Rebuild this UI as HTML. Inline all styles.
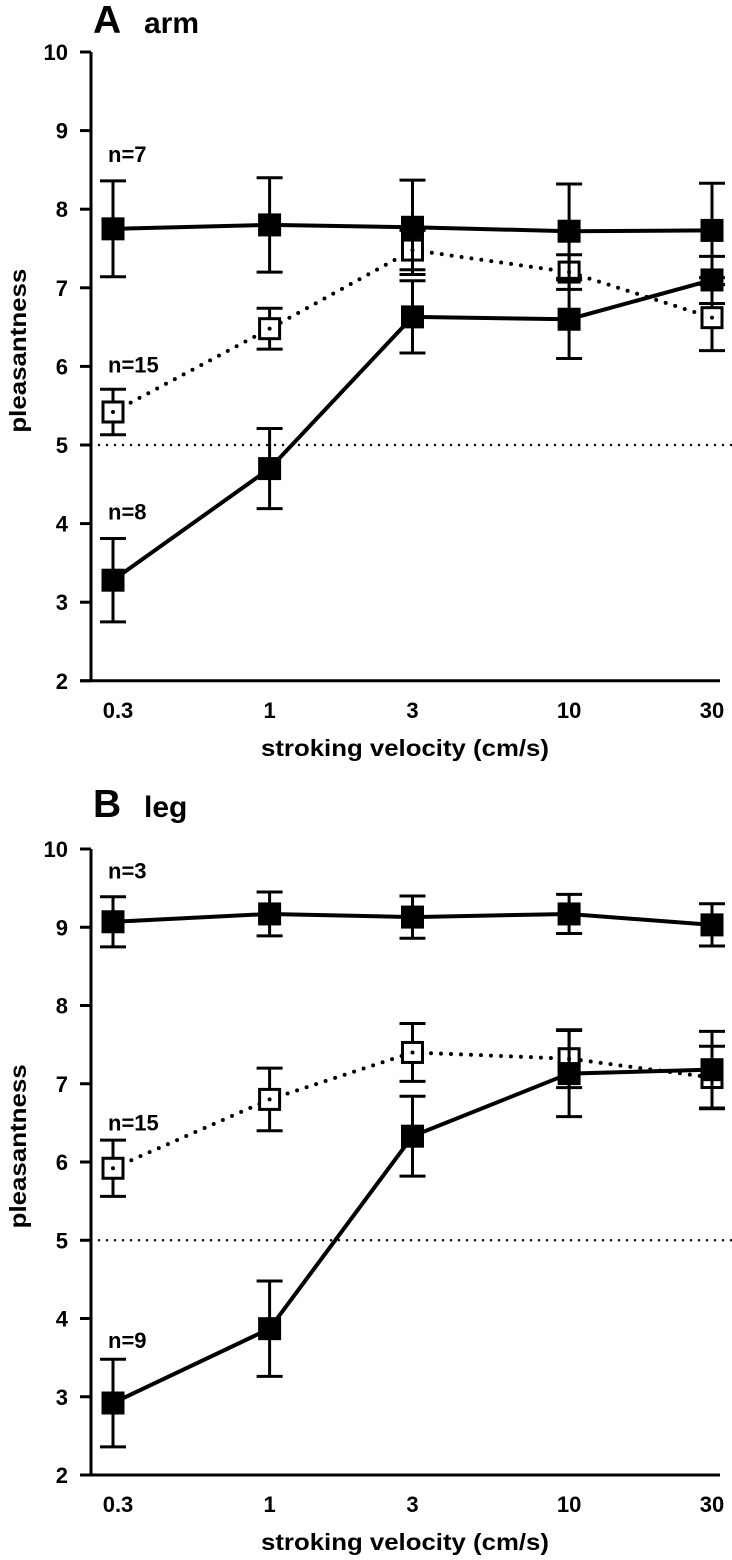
<!DOCTYPE html>
<html><head><meta charset="utf-8"><style>
html,body{margin:0;padding:0;background:#fff;}
svg{display:block;font-family:"Liberation Sans",sans-serif;font-weight:bold;}
</style></head><body>
<svg id="chart" width="732" height="1560" viewBox="0 0 732 1560" xmlns="http://www.w3.org/2000/svg"></svg>
<script>
const velocities = [0.3, 1, 3, 10, 30];
const yTicks = [2,3,4,5,6,7,8,9,10];
// Panel A (arm)
const armTopMean = [7.75, 7.8, 7.77, 7.72, 7.73];
const armTopErr  = [0.61, 0.6, 0.6, 0.6, 0.6];
const armOpenMean = [5.42, 6.48, 7.48, 7.2, 6.62];
const armOpenErr  = [0.29, 0.26, 0.25, 0.22, 0.42];
const armLowMean = [3.28, 4.7, 6.63, 6.6, 7.1];
const armLowErr  = [0.53, 0.51, 0.46, 0.5, 0.3];
// Panel B (leg)
const legTopMean = [9.07, 9.17, 9.13, 9.17, 9.03];
const legTopErr  = [0.32, 0.28, 0.27, 0.25, 0.27];
const legOpenMean = [5.92, 6.8, 7.4, 7.32, 7.08];
const legOpenErr  = [0.36, 0.4, 0.37, 0.37, 0.4];
const legLowMean = [2.92, 3.87, 6.33, 7.13, 7.18];
const legLowErr  = [0.56, 0.61, 0.51, 0.55, 0.49];

const NS = "http://www.w3.org/2000/svg";
const svg = document.getElementById('chart');
function mk(tag, attrs, parent){ const e=document.createElementNS(NS,tag); for(const k in attrs) e.setAttribute(k,attrs[k]); (parent||svg).appendChild(e); return e; }

function xScale(v){ return 113 + (Math.log10(v) - Math.log10(0.3)) * 299.5; }

function panel(cfg){
  const g = mk('g',{});
  
  
  const y = v => cfg.y10 + (10 - v) * cfg.unit;
  const y2 = y(2);
  const tl = mk('text',{x:93,y:cfg.titleY,'font-size':39},g); tl.textContent=cfg.letter;
  
  
  const tt = mk('text',{x:144,y:cfg.titleY,'font-size':30},g); tt.textContent=cfg.title;
  
  
  const ya = mk('line',{x1:91,y1:cfg.y10,x2:91,y2:y2,stroke:'#000','stroke-width':3},g);
  
  
  const xa = mk('line',{x1:80,y1:y2,x2:720,y2:y2,stroke:'#000','stroke-width':3},g);
  
  
  yTicks.forEach(t=>{
    const tk = mk('line',{x1:80,y1:y(t),x2:91,y2:y(t),stroke:'#000','stroke-width':3},g);
    
    
    const lb = mk('text',{x:68,y:y(t)+8,'font-size':22,'text-anchor':'end'},g); lb.textContent=t;
    
    
  });
  velocities.forEach(v=>{
    const lb = mk('text',{x:xScale(v)+(v===0.3?5:0),y:y2+37,'font-size':22,'text-anchor':'middle'},g); lb.textContent=v;
    
    
  });
  const xt = mk('text',{x:405,y:y2+75,'font-size':23,'text-anchor':'middle',textLength:288,lengthAdjust:'spacingAndGlyphs'},g); xt.textContent='stroking velocity (cm/s)';
  
  
  const yt = mk('text',{x:0,y:0,'font-size':23,'text-anchor':'middle',textLength:164,lengthAdjust:'spacingAndGlyphs',transform:`translate(26,${y(6.2)}) rotate(-90)`},g); yt.textContent='pleasantness';
  
  
  const rl = mk('line',{x1:91,y1:y(5),x2:732,y2:y(5),stroke:'#000','stroke-width':2.4,'stroke-dasharray':'0 8','stroke-linecap':'round'},g);
  
  

  function series(name, means, errs, open){
    const sg = mk('g',{},g);
    
    
    const pts = means.map((m,i)=>xScale(velocities[i])+','+y(m)).join(' ');
    const pl = mk('polyline',{points:pts,fill:'none',stroke:'#000','stroke-width':4,'stroke-dasharray':open?'0 10':'none','stroke-linecap':open?'round':'butt'},sg);
    
    
    means.forEach((m,i)=>{
      const x = xScale(velocities[i]);
      const hi=y(m+errs[i]), lo=y(m-errs[i]);
      const eb = mk('path',{d:`M${x},${hi}V${lo}M${x-13},${hi}H${x+13}M${x-13},${lo}H${x+13}`,stroke:'#000','stroke-width':3,fill:'none'},sg);
      
      
      const r = open
        ? mk('rect',{x:x-10,y:y(m)-10,width:20,height:20,fill:'#fff',stroke:'#000','stroke-width':3},sg)
        : mk('rect',{x:x-11.5,y:y(m)-11.5,width:23,height:23,fill:'#000'},sg);
      
      
      if(open){
        const d = mk('circle',{cx:x,cy:y(m),r:2,fill:'#000'},sg);
        
        
      }
    });
  }
  series('open-series', cfg.open, cfg.openErr, true);
  series('low-series', cfg.low, cfg.lowErr, false);
  series('top-series', cfg.top, cfg.topErr, false);
  cfg.nLabels.forEach(n=>{
    const t = mk('text',{x:108,y:y(n[1]),'font-size':22},g); t.textContent=n[0];
    
    
  });
}

panel({name:'panel-a-arm',letter:'A',title:'arm',titleY:33,y10:52,unit:78.6,
  top:armTopMean,topErr:armTopErr,open:armOpenMean,openErr:armOpenErr,low:armLowMean,lowErr:armLowErr,
  nLabels:[['n=7',8.6],['n=15',5.92],['n=8',4.05]]});
panel({name:'panel-b-leg',letter:'B',title:'leg',titleY:817,y10:849,unit:78.25,
  top:legTopMean,topErr:legTopErr,open:legOpenMean,openErr:legOpenErr,low:legLowMean,lowErr:legLowErr,
  nLabels:[['n=3',9.62],['n=15',6.4],['n=9',3.62]]});
</script>
</body></html>
